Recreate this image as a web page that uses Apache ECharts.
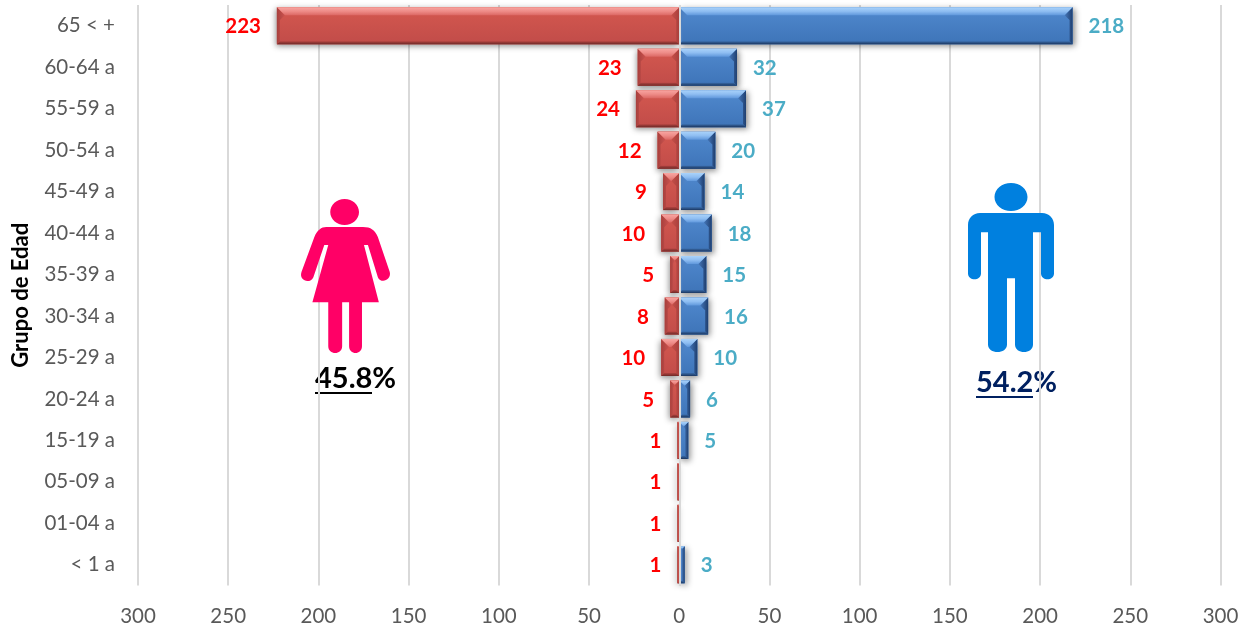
<!DOCTYPE html>
<html>
<head>
<meta charset="utf-8">
<style>html,body{margin:0;padding:0;background:#fff}#c{width:1251px;height:628px}</style>
<script src="https://cdn.jsdelivr.net/npm/echarts@6/dist/echarts.min.js"></script>
</head>
<body>
<div id="c"></div>
<script>
const categories = ['65 < +','60-64 a','55-59 a','50-54 a','45-49 a','40-44 a','35-39 a','30-34 a','25-29 a','20-24 a','15-19 a','05-09 a','01-04 a','< 1 a'];
const femaleValues = [223,23,24,12,9,10,5,8,10,5,1,1,1,1];
const maleValues = [218,32,37,20,14,18,15,16,10,6,5,null,null,3];
const femaleShare = '45.8';
const maleShare = '54.2';

const FONT = 'Lato';
const BAR_H = 37;
const BEVEL = 8;
const chart = echarts.init(document.getElementById('c'));
const lg = (stops) => new echarts.graphic.LinearGradient(0,0,0,1,stops.map((c,i)=>({offset:i/(stops.length-1),color:c})));
const hg = (stops) => new echarts.graphic.LinearGradient(0,0,1,0,stops.map((c,i)=>({offset:i/(stops.length-1),color:c})));
const palette = {
  f:{top:['#F8A5A1','#EE8C88','#DC6864'],body:['#D4584F','#C14C49'],left:['#A8403D','#CB534F'],right:['#C65049','#A83F3C'],bottom:['#B04340','#6E2A28']},
  m:{top:['#A9D2FA','#8FBEF2','#6098DC'],body:['#5089CE','#3E74B8'],left:['#4A7DBD','#4F86CA'],right:['#4678BA','#1F3F70'],bottom:['#3A6BA8','#1B3660']}
};
function bevel(kind){
  return function(params, api){
    const v = api.value(0);
    if (v == null || isNaN(v)) return;
    const idx = api.value(1);
    const a = api.coord([v, idx]), z = api.coord([0, idx]);
    const L = Math.min(a[0], z[0]), R = Math.max(a[0], z[0]);
    const T = a[1]-BAR_H/2, B = a[1]+BAR_H/2;
    const b = Math.min(BEVEL, (R-L)/2);
    const s = Math.min(3, (R-L)/2);
    const p = palette[kind];
    const poly = (pts, fill) => ({type:'polygon', shape:{points:pts}, style:{fill}});
    return {type:'group', children:[
      {type:'rect', shape:{x:L,y:T,width:R-L,height:B-T}, style:{fill:lg(p.body)}},
      poly([[L,T],[L+b,T+b],[L+s,T+b*1.6],[L+s,B-s],[L,B]], hg(p.left)),
      poly([[R,T],[R-b,T+b],[R-s,T+b*1.6],[R-s,B-s],[R,B]], hg(p.right)),
      poly([[L,B],[L+s,B-s],[R-s,B-s],[R,B]], lg(p.bottom)),
      poly([[L,T],[R,T],[R-b,T+b],[L+b,T+b]], lg(p.top))
    ]};
  };
}
function barSeries(name, vals, sign, pos, color, shadowX){
  return {
    name, type:'bar', barWidth:BAR_H, barGap:'-100%',
    data: vals.map(v => v==null ? null : sign*v),
    itemStyle:{color, shadowBlur:6, shadowOffsetX:shadowX, shadowOffsetY:2, shadowColor:'rgba(0,0,0,0.45)'},
    label:{show:true, position:pos, distance:16, offset:[0,1], fontFamily:FONT, fontWeight:'bold', fontSize:20.5,
      color: sign<0 ? '#FF0000' : '#4BACC6', formatter:p=>Math.abs(p.value)},
    z:2
  };
}
function bevelSeries(vals, sign, kind){
  return {
    type:'custom', renderItem:bevel(kind), silent:true, z:3,
    encode:{x:0,y:1}, clip:false,
    data: vals.map((v,i)=>[v==null?null:sign*v, i])
  };
}
function figureSeries(pathData, box, fill){
  return {
    type:'custom', coordinateSystem:'none', silent:true, z:6, data:[0],
    renderItem:()=>({type:'path', shape:Object.assign({pathData, layout:'cover'}, box), style:{fill}})
  };
}
const malePath = 'M1011 183c9 0 16.5 6 16.5 14s-7.5 14-16.5 14-16.5-6-16.5-14 7.5-14 16.5-14z'+
  'M980 213h62c7 0 12 5 12 12v48c0 8-13 8-13 0v-41h-8v112c0 10-18 10-18 0v-66h-8v66c0 10-19 10-19 0v-112h-7v41c0 8-13 8-13 0v-48c0-7 5-12 12-12z';
const femalePath = 'M344.500 199c8 0 14.500 5.800 14.500 13s-6.500 13-14.500 13-14.500-5.800-14.500-13 6.500-13 14.500-13z'+
  'M326 227h37c8 0 12 3 15 10l12 35c2 8-9 12-12 5l-10-32h-4l15 57h-17v44c0 9-13 9-13 0v-44h-7v44c0 9-14 9-14 0v-44h-16l16-57h-4l-11 32c-3 7-15 4-12-5l13-35c3-7 7-10 12-10z';
chart.setOption({
  animation:false,
  grid:{left:138, right:30.5, top:5, bottom:42.5, outerBoundsMode:'none'},
  xAxis:{type:'value', min:-300, max:300, interval:50,
    axisLine:{show:false}, axisTick:{show:false},
    axisLabel:{fontFamily:FONT, fontSize:20.5, color:'#595959', margin:20, formatter:v=>Math.abs(v)},
    splitLine:{show:true, lineStyle:{color:'#D9D9D9', width:2}}},
  yAxis:{type:'category', inverse:true, data:categories,
    name:'Grupo de Edad', nameLocation:'middle', nameGap:106, nameRotate:90,
    nameTextStyle:{fontFamily:FONT, fontWeight:'bold', fontSize:22, color:'#000'},
    axisLine:{show:false, onZero:false}, axisTick:{show:false},
    axisLabel:{fontFamily:FONT, fontSize:20.5, color:'#595959', margin:23}},
  series:[
    barSeries('Mujeres', femaleValues, -1, 'left', '#C0504D', -1),
    barSeries('Hombres', maleValues, 1, 'right', '#4F81BD', 2),
    bevelSeries(femaleValues, -1, 'f'),
    bevelSeries(maleValues, 1, 'm'),
    {type:'line', silent:true, z:5, symbol:'none', data:[], markLine:{silent:true, symbol:'none', label:{show:false},
      lineStyle:{color:'#D9D9D9', width:2, type:'solid'}, data:[{xAxis:0}]}},
    figureSeries(femalePath, {x:301,y:199,width:89,height:154}, '#FF0066'),
    figureSeries(malePath, {x:968,y:183,width:86,height:169}, '#0080DF')
  ],
  graphic:[
    {type:'text', left:315, top:364, style:{text:femaleShare+'%', fontFamily:FONT, fontWeight:'bold', fontSize:29, fill:'#000'}},
    {type:'rect', shape:{x:315,y:392,width:57,height:2}, style:{fill:'#000'}},
    {type:'text', left:976, top:368, style:{text:maleShare+'%', fontFamily:FONT, fontWeight:'bold', fontSize:29, fill:'#002060'}},
    {type:'rect', shape:{x:976,y:396,width:57,height:2}, style:{fill:'#002060'}}
  ]
});
</script>
</body>
</html>
